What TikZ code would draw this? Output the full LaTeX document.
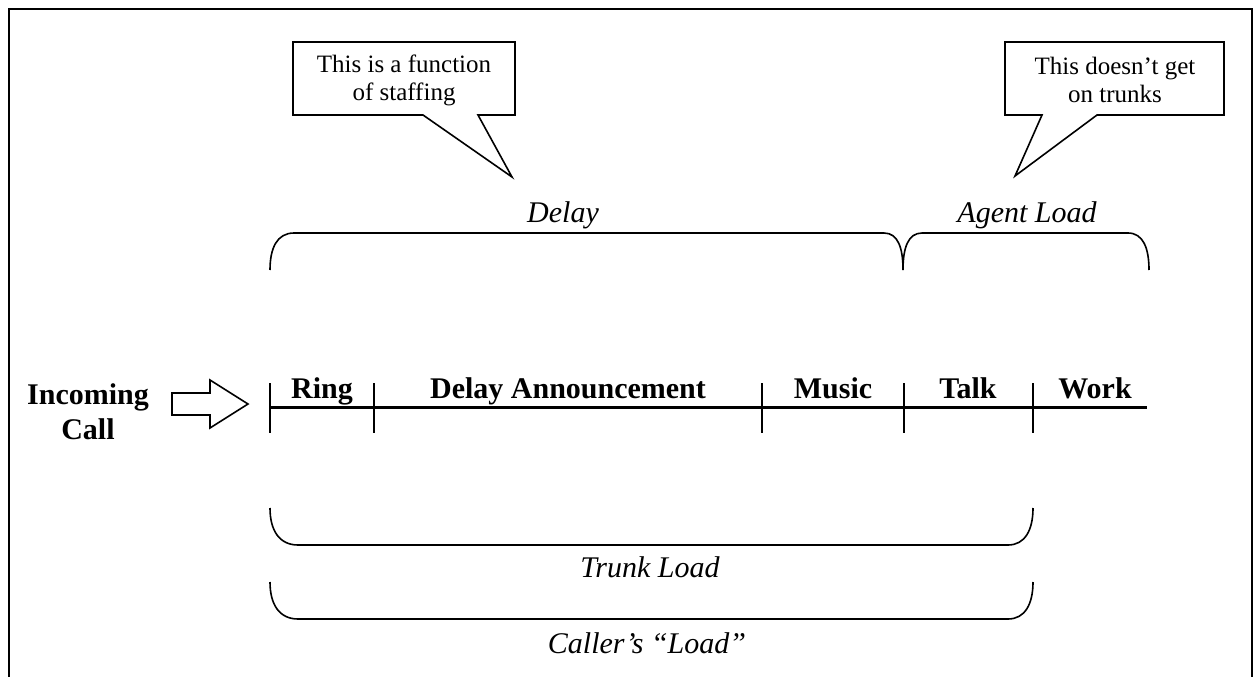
\documentclass[tikz,border=0pt]{standalone}
\usepackage{fontspec}
\setmainfont{Liberation Serif}
\begin{document}
\begin{tikzpicture}[x=1pt,y=-1pt,
  frame/.style={line width=2pt},
  bubble/.style={draw, line width=1.6pt, line join=miter},
  bubbletext/.style={align=center, inner sep=0pt, font=\fontsize{25}{28}\selectfont},
  brace/.style={line width=1.6pt},
  bracelabel/.style={anchor=base, inner sep=0pt, font=\fontsize{30}{34}\selectfont\itshape},
  phase/.style={anchor=base, inner sep=0pt, font=\fontsize{30}{34}\selectfont\bfseries},
  tickmark/.style={line width=1.8pt},
  timeline/.style={line width=3pt},
  blockarrow/.style={draw, line width=1.6pt, line join=miter}]

\useasboundingbox (0,0) rectangle (1255,677);

% open frame: left, top and right sides
\draw[frame] (9,677) -- (9,9) -- (1252,9) -- (1252,677);

% ---- speech bubbles ----
\coordinate (b1nw) at (293,42);
\coordinate (b1se) at (515,115);
\coordinate (b1tr) at (478,115);
\coordinate (b1tl) at (423,115);
\coordinate (b1tip) at (512,177);
\draw[bubble] (b1nw) -| (b1se) -- (b1tr) -- (b1tip) -- (b1tl) -| cycle;
\node[bubbletext] (note1) at (404,80) {This is a function\\of staffing};

\coordinate (b2nw) at (1005,42);
\coordinate (b2se) at (1224,115);
\coordinate (b2tr) at (1097,115);
\coordinate (b2tl) at (1042,115);
\coordinate (b2tip) at (1015,176);
\draw[bubble] (b2nw) -| (b2se) -- (b2tr) -- (b2tip) -- (b2tl) -| cycle;
\node[bubbletext] (note2) at (1115,80) {This doesn’t get\\on trunks};

% ---- braces above the timeline ----
\draw[brace] (270,270) .. controls (270,248) and (277,233) .. (294,233)
  -- (884,233) .. controls (898,233) and (903,248) .. (903,270);
\draw[brace] (903,270) .. controls (903,248) and (908,233) .. (922,233)
  -- (1128,233) .. controls (1143,233) and (1149,248) .. (1149,270);
\node[bracelabel] (delay) at (563,222) {Delay};
\node[bracelabel] (agent) at (1027,222) {Agent Load};

% ---- timeline ----
\coordinate (tl0) at (270,407);
\coordinate (tl1) at (1147,407);
\draw[timeline] (tl0) -- (tl1);
\foreach \x in {270,374,762,904,1033}
  \draw[tickmark] (\x,383) -- (\x,433);

\node[phase] (ring)  at (322,398)  {Ring};
\node[phase] (annc)  at (568,398)  {Delay Announcement};
\node[phase] (music) at (833,398)  {Music};
\node[phase] (talk)  at (968,398)  {Talk};
\node[phase] (work)  at (1095,398) {Work};

% ---- incoming call and block arrow ----
\node[align=center, inner sep=0pt, font=\fontsize{30}{35}\selectfont\bfseries]
  (incoming) at (88,412) {Incoming\\Call};
\draw[blockarrow] (172,393) -- (210,393) -- (210,380) -- (248,404)
  -- (210,428) -- (210,415) -- (172,415) -- cycle;

% ---- braces below the timeline ----
\draw[brace] (270,508) .. controls (270,530) and (279,545) .. (298,545)
  -- (1008,545) .. controls (1025,545) and (1033,530) .. (1033,508);
\node[bracelabel] (trunk) at (650,577) {Trunk Load};

\draw[brace] (270,582) .. controls (270,604) and (279,619) .. (298,619)
  -- (1008,619) .. controls (1025,619) and (1033,604) .. (1033,582);
\node[bracelabel] (caller) at (647,653) {Caller’s “Load”};

\end{tikzpicture}
\end{document}
